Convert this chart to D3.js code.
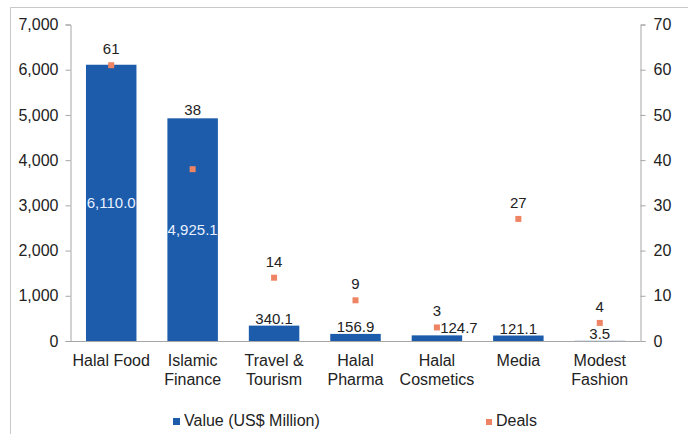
<!DOCTYPE html>
<html>
<head>
<meta charset="utf-8">
<script src="https://cdn.jsdelivr.net/npm/d3@7"></script>
<style>
  body { margin: 0; background: #fff; }
  text { font-family: "Liberation Sans", Arial, sans-serif; fill: #222; }
</style>
</head>
<body>
<div id="chart"></div>
<script>
// data
var categories = [["Halal Food"], ["Islamic", "Finance"], ["Travel &", "Tourism"], ["Halal", "Pharma"], ["Halal", "Cosmetics"], ["Media"], ["Modest", "Fashion"]];
var values = [6110.0, 4925.1, 340.1, 156.9, 124.7, 121.1, 3.5];
var deals = [61, 38, 14, 9, 3, 27, 4];
var leftTicks = [0, 1000, 2000, 3000, 4000, 5000, 6000, 7000];
var rightTicks = [0, 10, 20, 30, 40, 50, 60, 70];

var width = 688, height = 434;
var barColor = "#1c5cab", dealColor = "#ee8463", axisColor = "#a6a6a6";

var svg = d3.select("#chart").append("svg")
    .attr("width", width)
    .attr("height", height);

// outer frame (only top + left visible in the crop)
svg.append("path")
    .attr("d", "M10.5," + height + "V7.5H" + width)
    .attr("fill", "none")
    .attr("stroke", "#c8c8c8");

var x = d3.scaleBand()
    .domain(d3.range(categories.length))
    .range([70.5, 640.5])
    .paddingInner(0.38)
    .paddingOuter(0.19);

var yL = d3.scaleLinear().domain([0, 7000]).range([341, 24.5]);
var yR = d3.scaleLinear().domain([0, 70]).range([341, 24.5]);

// bars
svg.append("g")
    .selectAll("rect")
    .data(values)
    .enter()
    .append("rect")
    .attr("x", function(d, i) { return x(i); })
    .attr("y", function(d) { return yL(d); })
    .attr("width", x.bandwidth())
    .attr("height", function(d) { return yL(0) - yL(d); })
    .attr("fill", barColor);

// axes
var left = svg.append("g")
    .attr("transform", "translate(70.5,0)")
    .call(d3.axisLeft(yL).tickValues(leftTicks).tickSize(5).tickPadding(7).tickFormat(d3.format(",")));
var right = svg.append("g")
    .attr("transform", "translate(640.5,0)")
    .call(d3.axisRight(yR).tickValues(rightTicks).tickSize(5).tickPadding(8));
[left, right].forEach(function(ax) {
    ax.select(".domain").attr("stroke", axisColor);
    ax.selectAll(".tick line").attr("stroke", axisColor);
    ax.selectAll(".tick text").attr("font-size", 16).attr("fill", "#222")
        .style("font-family", "Liberation Sans, Arial, sans-serif");
});

// baseline
svg.append("line")
    .attr("x1", 70.5).attr("x2", 640.5)
    .attr("y1", yL(0) + 0.5).attr("y2", yL(0) + 0.5)
    .attr("stroke", axisColor);

// category labels
var cat = svg.append("g")
    .selectAll("text")
    .data(categories)
    .enter()
    .append("text")
    .attr("x", function(d, i) { return x(i) + x.bandwidth() / 2; })
    .attr("y", 366)
    .attr("text-anchor", "middle")
    .attr("font-size", 16);
cat.selectAll("tspan")
    .data(function(d) { return d; })
    .enter()
    .append("tspan")
    .attr("x", function() { return this.parentNode.getAttribute("x"); })
    .attr("dy", function(d, j) { return j ? 19 : 0; })
    .text(function(d) { return d; });

// value labels: inside big bars, above small ones
var fmt = d3.format(",.1f");
svg.append("g")
    .selectAll("text")
    .data(values)
    .enter()
    .append("text")
    .attr("x", function(d, i) {
        var c = x(i) + x.bandwidth() / 2;
        return i === 4 ? c + 22 : c;
    })
    .attr("y", function(d) {
        return d > 1000 ? (yL(d) + yL(0)) / 2 + 5 : yL(d) - 2;
    })
    .attr("text-anchor", "middle")
    .attr("font-size", 15)
    .style("fill", function(d) { return d > 1000 ? "#e8f0ff" : "#222"; })
    .text(function(d) { return fmt(d); });

// deals markers
svg.append("g")
    .selectAll("rect")
    .data(deals)
    .enter()
    .append("rect")
    .attr("x", function(d, i) { return x(i) + x.bandwidth() / 2 - 3; })
    .attr("y", function(d) { return yR(d) - 3; })
    .attr("width", 6)
    .attr("height", 6)
    .attr("fill", dealColor);

// deals labels
svg.append("g")
    .selectAll("text")
    .data(deals)
    .enter()
    .append("text")
    .attr("x", function(d, i) { return x(i) + x.bandwidth() / 2; })
    .attr("y", function(d, i) { return Math.min(yR(d) - 11, yL(values[i]) - 3); })
    .attr("text-anchor", "middle")
    .attr("font-size", 15)
    .text(function(d) { return d; });

// legend
var legend = [
    { label: "Value (US$ Million)", color: barColor, x: 173, size: 7 },
    { label: "Deals", color: dealColor, x: 486, size: 6 }
];
var lg = svg.append("g")
    .selectAll("g")
    .data(legend)
    .enter()
    .append("g")
    .attr("transform", function(d) { return "translate(" + d.x + ",426)"; });
lg.append("rect")
    .attr("x", 0)
    .attr("y", function(d) { return -1 - d.size; })
    .attr("width", function(d) { return d.size; })
    .attr("height", function(d) { return d.size; })
    .attr("fill", function(d) { return d.color; });
lg.append("text")
    .attr("x", function(d) { return d.size + 4; })
    .attr("y", 0)
    .attr("font-size", 16)
    .text(function(d) { return d.label; });
</script>
</body>
</html>
